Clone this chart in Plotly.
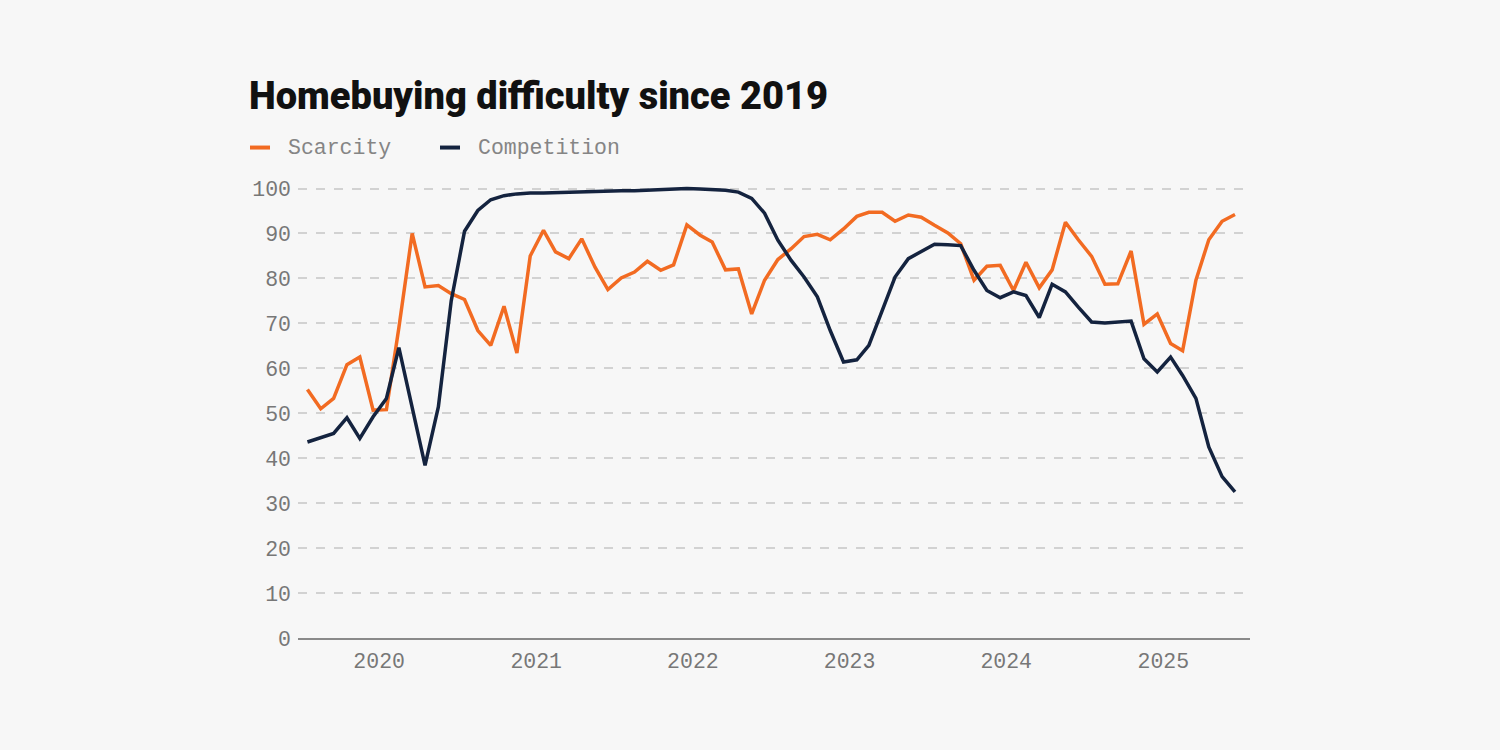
import pandas as pd
import plotly.graph_objects as go

# monthly readings, Aug 2019 - Jul 2025
start_month = "2019-08-01"

scarcity = [
    55.3, 51.0, 53.3, 60.8, 62.5, 50.7, 50.8, 69.0, 90.0, 78.1,
    78.4, 76.6, 75.3, 68.4, 65.1, 73.8, 63.4, 85.0, 90.7, 85.9,
    84.4, 88.8, 82.5, 77.5, 80.1, 81.4, 83.8, 81.8, 83.0, 91.9,
    89.6, 88.1, 81.9, 82.1, 72.1, 79.6, 84.2, 86.6, 89.3, 89.8,
    88.6, 91.0, 93.8, 94.7, 94.7, 92.7, 94.1, 93.6, 91.8, 90.1,
    87.7, 79.6, 82.7, 82.9, 77.3, 83.6, 77.9, 81.9, 92.5, 88.6,
    84.9, 78.7, 78.8, 86.1, 69.8, 72.1, 65.5, 63.9, 79.6, 88.6,
    92.7, 94.2,
]

competition = [
    43.6, 44.6, 45.5, 49.0, 44.4, 49.2, 53.3, 64.6, 51.5, 38.4,
    51.4, 75.0, 90.5, 95.1, 97.5, 98.4, 98.8, 99.0, 99.0, 99.1,
    99.2, 99.3, 99.4, 99.5, 99.5, 99.5, 99.6, 99.7, 99.8, 100.0,
    99.9, 99.8, 99.6, 99.2, 97.8, 94.5, 88.5, 84.0, 80.3, 75.9,
    68.4, 61.4, 61.9, 65.1, 72.9, 80.3, 84.4, 85.9, 87.6, 87.5,
    87.3, 81.8, 77.3, 75.7, 77.0, 76.2, 71.3, 78.7, 77.0, 73.6,
    70.3, 70.1, 70.3, 70.5, 62.1, 59.2, 62.5, 58.4, 53.3, 42.5,
    35.9, 32.5,
]

series_names = ["Scarcity", "Competition"]
year_ticks = ["2020-01-15", "2021-01-15", "2022-01-15", "2023-01-15", "2024-01-15", "2025-01-15"]
year_labels = ["2020", "2021", "2022", "2023", "2024", "2025"]
y_ticks = [0, 10, 20, 30, 40, 50, 60, 70, 80, 90, 100]

months = pd.date_range(start_month, periods=len(scarcity), freq="MS")

ORANGE = "#f26b22"
NAVY = "#14233f"
BG = "#f7f7f7"
MONO = "Liberation Mono"

fig = go.Figure()

for name, values, color in zip(series_names, [scarcity, competition], [ORANGE, NAVY]):
    fig.add_trace(go.Scatter(
        x=months, y=values, mode="lines", name=name,
        line=dict(color=color, width=3.5),
        showlegend=False,
    ))

# hand-made legend: short thick swatch + mono label (paper coords, plot width 952px)
legend_items = [
    (series_names[0], ORANGE, 250),
    (series_names[1], NAVY, 440),
]
for name, color, px in legend_items:
    x0 = (px - 298) / 952
    x1 = (px + 20 - 298) / 952
    fig.add_shape(
        type="line", xref="paper", yref="paper",
        x0=x0, x1=x1, y0=1.0803, y1=1.0803,
        line=dict(color=color, width=4),
    )
    fig.add_annotation(
        xref="paper", yref="paper",
        x=(px + 36 - 298) / 952, y=1.0803,
        xanchor="left", yanchor="middle",
        text=name, showarrow=False,
        font=dict(family=MONO, size=21.5, color="#858585"),
    )

fig.update_layout(
    width=1500,
    height=750,
    paper_bgcolor=BG,
    plot_bgcolor=BG,
    margin=dict(l=298, r=250, t=183.5, b=112),
    title=dict(
        text="Homebuying difficulty since 2019",
        font=dict(family="Roboto", size=38, color="#111111", weight=900),
        x=249 / 1500, xref="container", xanchor="left",
        y=1 - 96 / 750, yref="container", yanchor="middle",
    ),
    xaxis=dict(
        range=["2019-07-10", "2025-08-05"],
        tickvals=year_ticks,
        ticktext=year_labels,
        showgrid=False,
        zeroline=False,
        showline=True,
        linecolor="#8a8a8a",
        linewidth=2,
        ticks="",
        ticklabelstandoff=2,
        tickfont=dict(family=MONO, size=21.5, color="#777777"),
    ),
    yaxis=dict(
        range=[0, 101],
        tickvals=y_ticks,
        showgrid=True,
        gridcolor="#d2d2d2",
        gridwidth=1.5,
        griddash="dash",
        zeroline=False,
        ticks="",
        ticklabelstandoff=6,
        tickfont=dict(family=MONO, size=21.5, color="#777777"),
    ),
)

fig.write_html(
    "out.html",
    config={"displayModeBar": False},
    post_script="document.body.style.margin='0';document.body.style.background='#f7f7f7';",
)
